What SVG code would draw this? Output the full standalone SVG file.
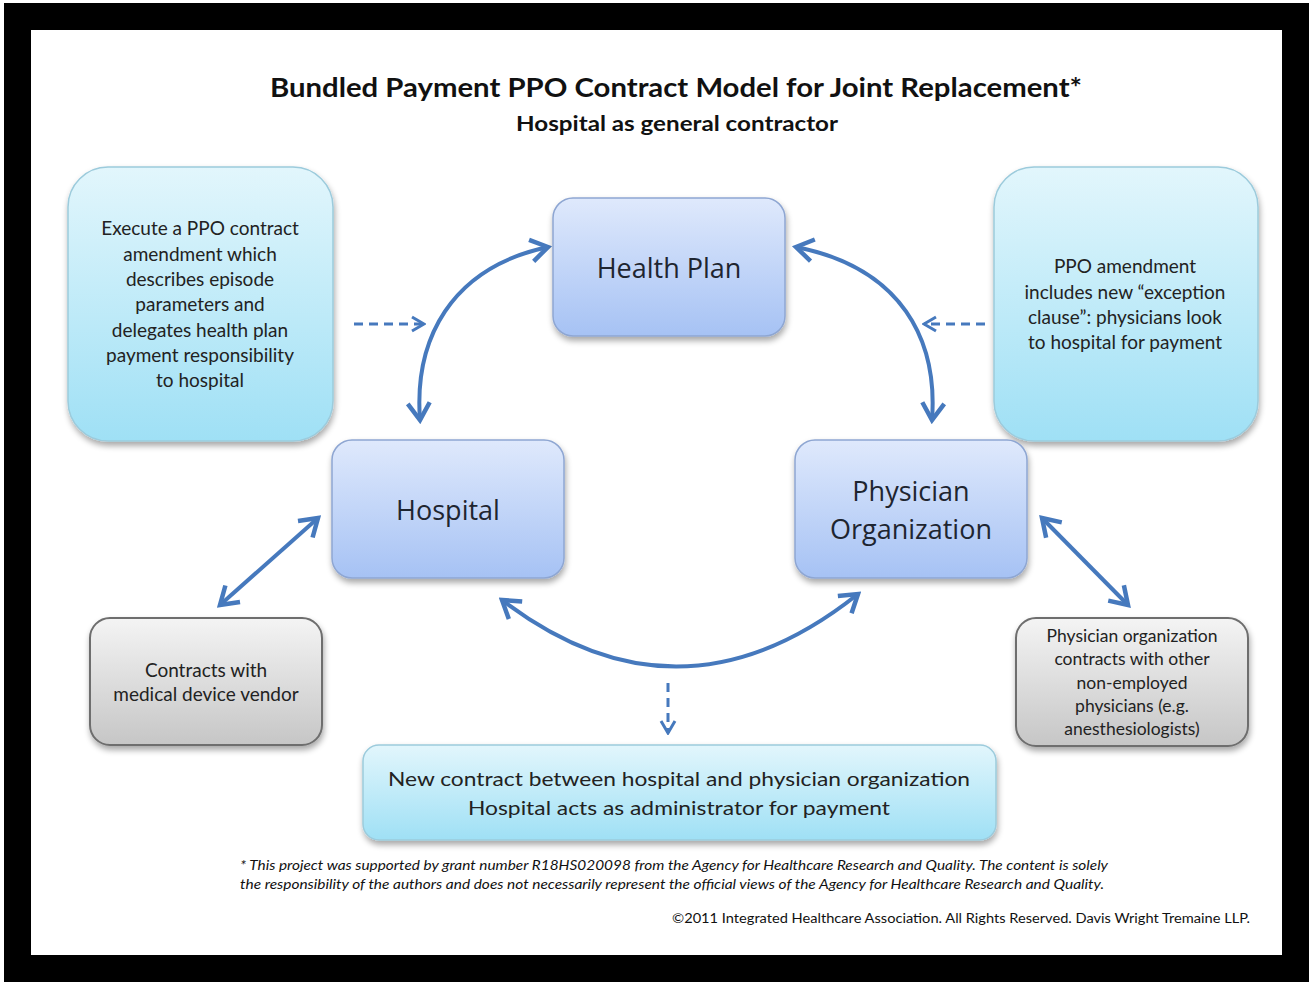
<svg xmlns="http://www.w3.org/2000/svg" width="1310" height="983" viewBox="0 0 1310 983">
  <defs>
    <linearGradient id="gBlue" x1="0" y1="0" x2="0" y2="1">
      <stop offset="0" stop-color="#dfe9fc"/>
      <stop offset="1" stop-color="#a6c2f4"/>
    </linearGradient>
    <linearGradient id="gCyan" x1="0" y1="0" x2="0" y2="1">
      <stop offset="0" stop-color="#e2f6fc"/>
      <stop offset="1" stop-color="#9fe0f5"/>
    </linearGradient>
    <linearGradient id="gGray" x1="0" y1="0" x2="0" y2="1">
      <stop offset="0" stop-color="#f4f4f4"/>
      <stop offset="1" stop-color="#c6c6c6"/>
    </linearGradient>
    <filter id="shadow" x="-10%" y="-10%" width="125%" height="130%">
      <feGaussianBlur in="SourceAlpha" stdDeviation="3"/>
      <feOffset dx="1" dy="4" result="b"/>
      <feComponentTransfer><feFuncA type="linear" slope="0.35"/></feComponentTransfer>
      <feMerge><feMergeNode/><feMergeNode in="SourceGraphic"/></feMerge>
    </filter>
    <marker id="head" viewBox="0 0 24 28" refX="20" refY="14" markerWidth="24" markerHeight="28" markerUnits="userSpaceOnUse" orient="auto-start-reverse">
      <path d="M3,3 L20,14 L3,25" fill="none" stroke="#4679bd" stroke-width="4.5"/>
    </marker>
    <marker id="headSmall" viewBox="0 0 16 18" refX="14" refY="9" markerWidth="16" markerHeight="18" markerUnits="userSpaceOnUse" orient="auto">
      <path d="M2,2 L14,9 L2,16" fill="none" stroke="#4679bd" stroke-width="3"/>
    </marker>
    <style>
      .blue { fill: url(#gBlue); stroke: #8ea6d2; stroke-width: 1.5; filter: url(#shadow); }
      .cyan { fill: url(#gCyan); stroke: #9ccbdc; stroke-width: 1.5; filter: url(#shadow); }
      .gray { fill: url(#gGray); stroke: #6e6e6e; stroke-width: 2; filter: url(#shadow); }
      .node { font-family: "Open Sans", "DejaVu Sans", sans-serif; font-size: 27px; fill: #1e2530; text-anchor: middle; }
      .body { font-family: Lato, "Liberation Sans", sans-serif; font-size: 19px; fill: #222; text-anchor: middle; }
      .small { font-family: Lato, "Liberation Sans", sans-serif; font-size: 17.5px; fill: #222; text-anchor: middle; }
      .link { fill: none; stroke: #4679bd; stroke-width: 4; }
      .dash { fill: none; stroke: #4679bd; stroke-width: 3; stroke-dasharray: 9 6; }
      .foot { font-family: Lato, "Liberation Sans", sans-serif; font-size: 12.5px; font-style: italic; fill: #111; }
    </style>
  </defs>

  <!-- frame -->
  <rect x="4" y="3" width="1305" height="979" fill="#000"/>
  <rect x="31" y="30" width="1251" height="925" fill="#fff"/>

  <!-- headings -->
  <text x="676" y="97" font-family="Lato, 'Liberation Sans', sans-serif" font-weight="bold" font-size="27" fill="#111" text-anchor="middle" textLength="812" lengthAdjust="spacingAndGlyphs">Bundled Payment PPO Contract Model for Joint Replacement*</text>
  <text x="677" y="131" font-family="Lato, 'Liberation Sans', sans-serif" font-weight="bold" font-size="21" fill="#111" text-anchor="middle" textLength="322" lengthAdjust="spacingAndGlyphs">Hospital as general contractor</text>

  <!-- connectors -->
  <g id="connectors">
    <path class="link" d="M420,420 C414,340 450,268 548,247" marker-start="url(#head)" marker-end="url(#head)"/>
    <path class="link" d="M932,420 C938,340 902,268 796,247" marker-start="url(#head)" marker-end="url(#head)"/>
    <path class="link" d="M502,600 Q680,736 858,594" marker-start="url(#head)" marker-end="url(#head)"/>
    <path class="link" d="M220,605 L318,518" marker-start="url(#head)" marker-end="url(#head)"/>
    <path class="link" d="M1042,518 L1128,605" marker-start="url(#head)" marker-end="url(#head)"/>
    <path class="dash" d="M354,324 L424,324" marker-end="url(#headSmall)"/>
    <path class="dash" d="M985,324 L924,324" marker-end="url(#headSmall)"/>
    <path class="dash" d="M668,683 L668,733" marker-end="url(#headSmall)"/>
  </g>

  <g id="node-amendment">
    <rect class="cyan" x="68" y="167" width="265" height="274" rx="40"/>
    <text class="body" x="200" y="235">Execute a PPO contract</text>
    <text class="body" x="200" y="261">amendment which</text>
    <text class="body" x="200" y="286">describes episode</text>
    <text class="body" x="200" y="311">parameters and</text>
    <text class="body" x="200" y="337">delegates health plan</text>
    <text class="body" x="200" y="362">payment responsibility</text>
    <text class="body" x="200" y="387">to hospital</text>
  </g>

  <g id="node-health-plan">
    <rect class="blue" x="553" y="198" width="232" height="138" rx="20"/>
    <text class="node" x="669" y="278">Health Plan</text>
  </g>

  <g id="node-exception">
    <rect class="cyan" x="994" y="167" width="264" height="274" rx="40"/>
    <text class="body" x="1125" y="273">PPO amendment</text>
    <text class="body" x="1125" y="299">includes new “exception</text>
    <text class="body" x="1125" y="324">clause”: physicians look</text>
    <text class="body" x="1125" y="349">to hospital for payment</text>
  </g>

  <g id="node-hospital">
    <rect class="blue" x="332" y="440" width="232" height="138" rx="20"/>
    <text class="node" x="448" y="520">Hospital</text>
  </g>

  <g id="node-physician-org">
    <rect class="blue" x="795" y="440" width="232" height="138" rx="20"/>
    <text class="node" x="911" y="501">Physician</text>
    <text class="node" x="911" y="539">Organization</text>
  </g>

  <g id="node-device-vendor">
    <rect class="gray" x="90" y="618" width="232" height="127" rx="20"/>
    <text class="body" x="206" y="677" font-size="19.5">Contracts with</text>
    <text class="body" x="206" y="701" font-size="19.5">medical device vendor</text>
  </g>

  <g id="node-other-physicians">
    <rect class="gray" x="1016" y="618" width="232" height="128" rx="20"/>
    <text class="small" x="1132" y="642">Physician organization</text>
    <text class="small" x="1132" y="665">contracts with other</text>
    <text class="small" x="1132" y="689">non-employed</text>
    <text class="small" x="1132" y="712">physicians (e.g.</text>
    <text class="small" x="1132" y="735">anesthesiologists)</text>
  </g>

  <g id="node-new-contract">
    <rect class="cyan" x="363" y="745" width="633" height="95" rx="16"/>
    <text class="body" x="679" y="786" font-size="24" textLength="582" lengthAdjust="spacingAndGlyphs">New contract between hospital and physician organization</text>
    <text class="body" x="679" y="815" font-size="24" textLength="422" lengthAdjust="spacingAndGlyphs">Hospital acts as administrator for payment</text>
  </g>

  <!-- footnotes -->
  <text class="foot" x="240" y="870" textLength="868" lengthAdjust="spacingAndGlyphs">* This project was supported by grant number R18HS020098 from the Agency for Healthcare Research and Quality. The content is solely</text>
  <text class="foot" x="240" y="889" textLength="864" lengthAdjust="spacingAndGlyphs">the responsibility of the authors and does not necessarily represent the official views of the Agency for Healthcare Research and Quality.</text>
  <text x="672" y="923" font-family="Lato, 'Liberation Sans', sans-serif" font-size="13.5" fill="#111" textLength="578" lengthAdjust="spacingAndGlyphs">©2011 Integrated Healthcare Association. All Rights Reserved. Davis Wright Tremaine LLP.</text>
</svg>
